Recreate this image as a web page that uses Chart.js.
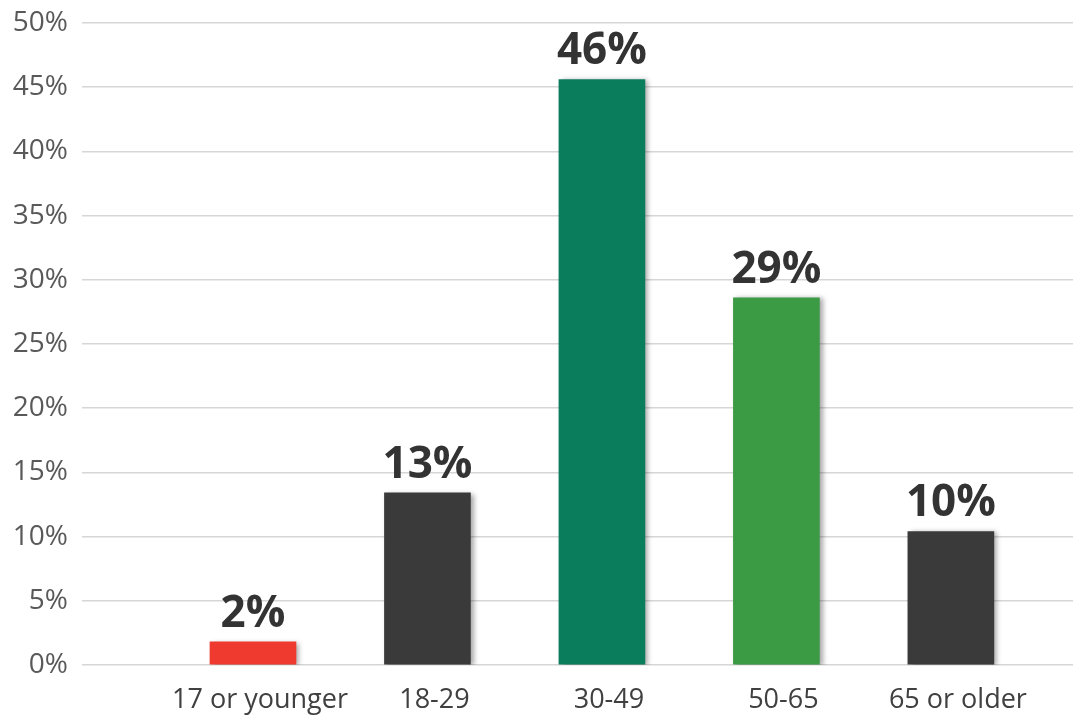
<!DOCTYPE html>
<html>
<head>
<meta charset="utf-8">
<script src="https://cdn.jsdelivr.net/npm/chart.js@4.4.1/dist/chart.umd.min.js"></script>
<style>
  html, body { margin: 0; padding: 0; background: #fff; }
  #wrap { width: 1073px; height: 715px; position: relative; }
</style>
</head>
<body>
<div id="wrap"><canvas id="ageChart"></canvas></div>
<script>
// Age groups and share of respondents (%)
const ageGroups = ['17 or younger', '18-29', '30-49', '50-65', '65 or older'];
const shares = [1.8, 13.4, 45.6, 28.6, 10.4];
const barColors = ['#ee3a2f', '#3a3a3a', '#0a7d5d', '#3b9a44', '#3a3a3a'];
const yTicks = [0, 5, 10, 15, 20, 25, 30, 35, 40, 45, 50];

const FONT = '"Open Sans", "Noto Sans", sans-serif';

// soft drop shadow on the bars only
const barShadow = {
  id: 'barShadow',
  beforeDatasetDraw(chart) {
    const ctx = chart.ctx;
    ctx.save();
    ctx.shadowColor = 'rgba(0,0,0,0.35)';
    ctx.shadowBlur = 5;
    ctx.shadowOffsetX = 3;
    ctx.shadowOffsetY = 1;
  },
  afterDatasetDraw(chart) {
    chart.ctx.restore();
  }
};

// bold value labels above each bar
const valueLabels = {
  id: 'valueLabels',
  afterDatasetsDraw(chart) {
    const ctx = chart.ctx;
    const meta = chart.getDatasetMeta(0);
    ctx.save();
    ctx.font = `bold 44px ${FONT}`;
    ctx.fillStyle = '#333333';
    ctx.textAlign = 'center';
    ctx.textBaseline = 'alphabetic';
    meta.data.forEach((bar, i) => {
      ctx.fillText(`${Math.round(shares[i])}%`, bar.x, bar.y - 15);
    });
    ctx.restore();
  }
};

new Chart(document.getElementById('ageChart'), {
  type: 'bar',
  data: {
    datasets: [{
      data: shares.map((v, i) => ({ x: i, y: v })),
      backgroundColor: barColors,
      borderWidth: 0,
      barThickness: 86
    }]
  },
  options: {
    responsive: true,
    maintainAspectRatio: false,
    animation: false,
    layout: { padding: { top: 23, right: 0, bottom: 0, left: 0 } },
    plugins: {
      legend: { display: false },
      tooltip: { enabled: false }
    },
    scales: {
      x: {
        type: 'linear',
        offset: false,
        min: -0.98,
        max: 4.7,
        grid: { display: false, drawTicks: false },
        border: { display: false },
        afterFit: s => { s.height = 50; },
        ticks: {
          stepSize: 1,
          includeBounds: false,
          autoSkip: false,
          maxRotation: 0,
          padding: 19,
          labelOffset: 7,
          color: '#404040',
          font: { family: FONT, size: 27 },
          callback: v => ageGroups[v] ?? ''
        }
      },
      y: {
        min: 0,
        max: 50,
        grid: { color: '#d6d6d6', lineWidth: 1.5, drawTicks: false },
        border: { display: false },
        afterFit: s => { s.width = 82; s.paddingTop = 0; s.paddingBottom = 0; },
        afterBuildTicks: s => { s.ticks = yTicks.map(v => ({ value: v })); },
        ticks: {
          padding: 14,
          color: '#595959',
          font: { family: FONT, size: 28, lineHeight: 1 },
          callback: v => `${v}%`
        }
      }
    }
  },
  plugins: [barShadow, valueLabels]
});
</script>
</body>
</html>
